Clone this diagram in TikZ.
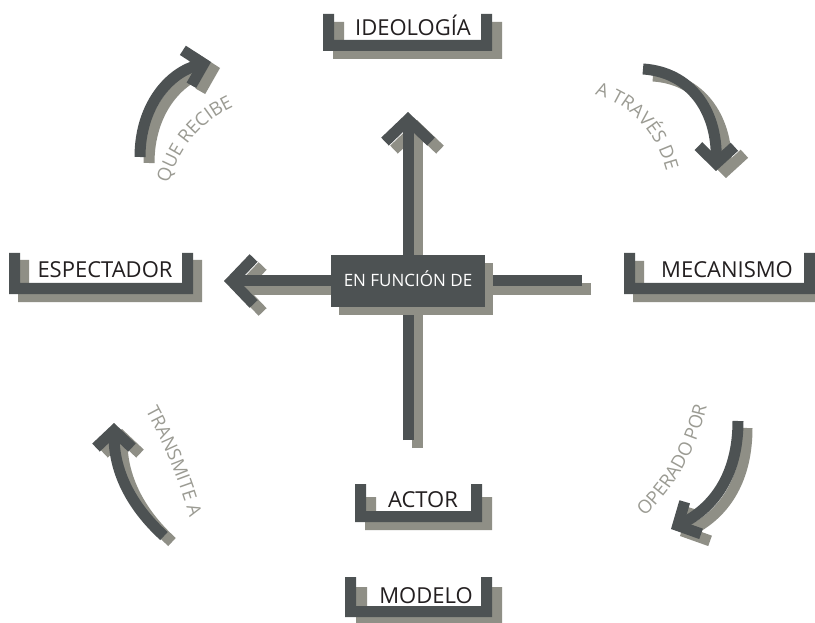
\documentclass[tikz,border=0pt]{standalone}
\usepackage{fontspec}
\setmainfont{Open Sans}
\usetikzlibrary{arrows.meta,decorations.text}
\definecolor{dk}{RGB}{77,82,83}
\definecolor{sh}{RGB}{143,143,134}
\definecolor{txt}{RGB}{35,31,32}
\definecolor{lbl}{RGB}{155,155,147}
\newcommand\ut{11}
\newcommand\ushape[5]{%
  \fill[#5] (#1,#2) -- (#1,#4) -- (#3,#4) -- (#3,#2) -- ({#3-\ut},#2) -- ({#3-\ut},{#4-\ut}) -- ({#1+\ut},{#4-\ut}) -- ({#1+\ut},#2) -- cycle;}
\tikzset{
  shaft/.style={line width=11pt},
  bigarrow/.style={shaft, -{Straight Barb[sharp, length=22pt, width=46pt]}},
  smallarrow/.style={shaft, -{Straight Barb[sharp, length=17pt, width=36pt]}},
  boxlabel/.style={text=txt, font=\fontsize{22}{24}\selectfont, inner sep=0pt, anchor=base},
  curvelabel/.style={decorate, decoration={text along path, text align=center,
     text={|\fontsize{18.5}{20}\selectfont\color{lbl}|#1}}}
}
\begin{document}
\begin{tikzpicture}[x=1pt,y=-1pt]
\useasboundingbox (0,0) rectangle (815,623);
\fill[white] (0,0) rectangle (815,623);

% straight arrows (shadows first)
\coordinate (vb) at (408,440);
\coordinate (vt) at (408,112);
\coordinate (hr) at (582,281);
\coordinate (hl) at (224,281);
\draw[sh, bigarrow] ([shift={(9,8)}]vb) -- ([shift={(9,8)}]vt);
\draw[sh, bigarrow] ([shift={(9,8)}]hr) -- ([shift={(9,8)}]hl);
\draw[dk, bigarrow] (vb) -- (vt);
\draw[dk, bigarrow] (hr) -- (hl);

% centre box
\fill[sh] (339,263) rectangle (493,315);
\node[fill=dk, minimum width=154pt, minimum height=52pt, inner sep=0pt] (ctr) at (408,281) {};
\node[text=white, font=\fontsize{17}{19}\selectfont, inner sep=0pt, anchor=base] (ctrtext) at (408,287) {EN FUNCIÓN DE};

% brackets
\ushape{333}{22}{502}{59}{sh}
\ushape{323}{14}{492}{51}{dk}
\node[boxlabel] (ideo) at (413,36) {IDEOLOGÍA};

\ushape{18}{260}{202}{302}{sh}
\ushape{9}{253}{193}{294}{dk}
\node[boxlabel] (espe) at (105,277) {ESPECTADOR};

\ushape{633}{261}{824}{302}{sh}
\ushape{624}{253}{815}{294}{dk}
\node[boxlabel] (meca) at (727,277) {MECANISMO};

\ushape{365}{497}{492}{530}{sh}
\ushape{355}{484}{482}{522}{dk}
\node[boxlabel] (actor) at (423,507) {ACTOR};

\ushape{356}{587}{502}{625}{sh}
\ushape{345}{577}{492}{617}{dk}
\node[boxlabel] (modelo) at (426,603) {MODELO};

% curved arrows
\coordinate (a1s) at (140,157);
\coordinate (a1e) at (211,62);
\draw[sh, smallarrow] ([shift={(9,6)}]a1s) .. controls ([shift={(9,6)}]140,105) and ([shift={(9,6)}]170,72) .. ([shift={(9,6)}]a1e);
\draw[dk, smallarrow] (a1s) .. controls (140,105) and (170,72) .. (a1e);

\coordinate (a2s) at (643,69);
\coordinate (a2e) at (716,171);
\draw[sh, smallarrow] ([shift={(10,7)}]a2s) .. controls ([shift={(10,7)}]690,72) and ([shift={(10,7)}]717,110) .. ([shift={(10,7)}]a2e);
\draw[dk, smallarrow] (a2s) .. controls (690,72) and (717,110) .. (a2e);

\coordinate (a3s) at (164,536);
\coordinate (a3e) at (114,423);
\draw[sh, smallarrow] ([shift={(8,6)}]a3s) .. controls ([shift={(8,6)}]130,505) and ([shift={(8,6)}]114,470) .. ([shift={(8,6)}]a3e);
\draw[dk, smallarrow] (a3s) .. controls (130,505) and (114,470) .. (a3e);

\coordinate (a4s) at (738,421);
\coordinate (a4e) at (671,529);
\draw[sh, smallarrow] ([shift={(9,7)}]a4s) .. controls ([shift={(9,7)}]738,470) and ([shift={(9,7)}]718,505) .. ([shift={(9,7)}]a4e);
\draw[dk, smallarrow] (a4s) .. controls (738,470) and (718,505) .. (a4e);

% curved labels
\path[curvelabel={QUE RECIBE}] (166,192) .. controls (178,148) and (200,120) .. (242,103);
\path[curvelabel={A TRAVÉS DE}] (588,93) .. controls (625,100) and (657,128) .. (668,178);
\path[curvelabel={TRANSMITE A}] (141,402) .. controls (162,440) and (180,480) .. (192,527);
\path[curvelabel={OPERADO POR}] (636,524) .. controls (670,495) and (698,455) .. (709,395);
\end{tikzpicture}
\end{document}
